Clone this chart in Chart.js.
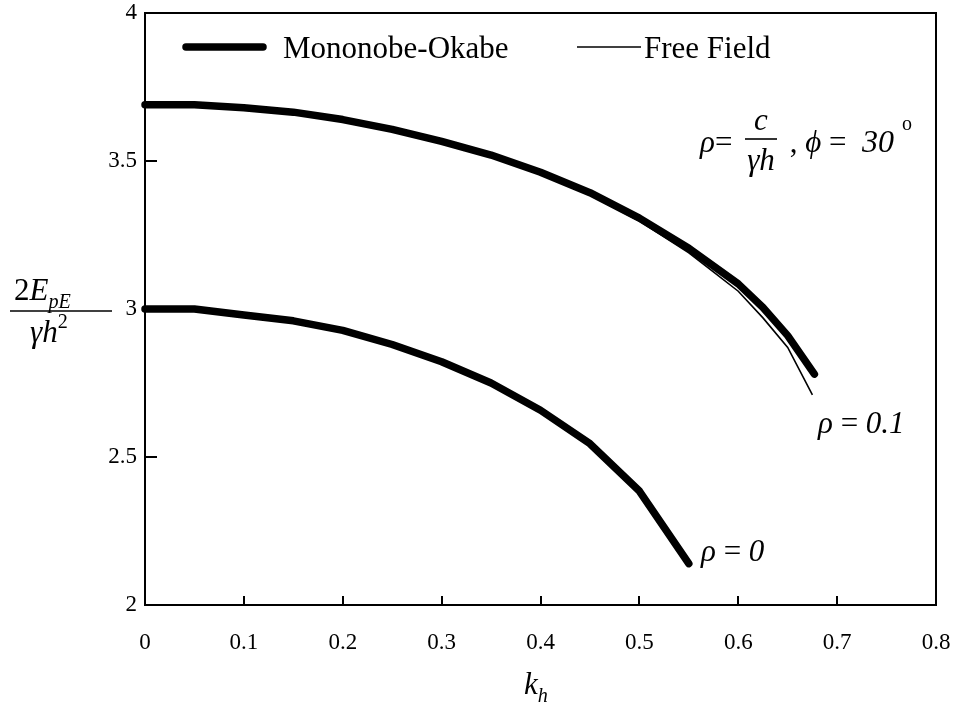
<html><head><meta charset="UTF-8">
<title>Mononobe-Okabe vs Free Field</title>
<script src="https://cdn.jsdelivr.net/npm/chart.js"></script>
<style>
body { margin: 0; background: #fff; }
#wrap { width: 956px; height: 710px; }
</style>
</head>
<body>
<div id="wrap"><canvas id="kpChart" width="956" height="710"></canvas></div>
<script>
// k_h values and 2E_pE / (gamma h^2)
const khRho0 = [0, 0.05, 0.1, 0.15, 0.2, 0.25, 0.3, 0.35, 0.4, 0.45, 0.5, 0.55];
const moRho0 = [3.0, 3.0, 2.98, 2.96, 2.928, 2.88, 2.822, 2.75, 2.658, 2.545, 2.385, 2.14];

const khMoRho01 = [0, 0.05, 0.1, 0.15, 0.2, 0.25, 0.3, 0.35, 0.4, 0.45, 0.5, 0.55, 0.6, 0.625, 0.65, 0.677];
const moRho01 = [3.69, 3.69, 3.68, 3.665, 3.64, 3.607, 3.566, 3.52, 3.462, 3.393, 3.307, 3.205, 3.085, 3.005, 2.91, 2.78];

const khFfRho01 = [0, 0.05, 0.1, 0.15, 0.2, 0.25, 0.3, 0.35, 0.4, 0.45, 0.5, 0.55, 0.6, 0.625, 0.65, 0.675];
const ffRho01 = [3.69, 3.69, 3.68, 3.665, 3.638, 3.605, 3.563, 3.517, 3.455, 3.385, 3.297, 3.19, 3.06, 2.97, 2.87, 2.71];

const xTicks = [0, 0.1, 0.2, 0.3, 0.4, 0.5, 0.6, 0.7, 0.8];
const yTicks = [2, 2.5, 3, 3.5, 4];

const SERIF = "'Liberation Serif', 'Times New Roman', serif";

function pts(xs, ys) {
  return xs.map((x, i) => ({ x: x, y: ys[i] }));
}

// draws italic text with optional sub/superscript pieces, returns end x
function richText(ctx, parts, x, y, size) {
  parts.forEach(p => {
    const s = p.small ? size * 0.65 : size;
    ctx.font = (p.upright ? '' : 'italic ') + s + 'px ' + SERIF;
    const dy = p.sub ? size * 0.25 : (p.sup ? -size * 0.45 : 0);
    ctx.fillText(p.t, x, y + dy);
    x += ctx.measureText(p.t).width;
  });
  return x;
}

const decorations = {
  id: 'decorations',
  afterDraw(chart) {
    const ctx = chart.ctx;
    const a = chart.chartArea;
    const xs = chart.scales.x, ys = chart.scales.y;
    ctx.save();
    ctx.strokeStyle = '#000';
    ctx.fillStyle = '#000';

    // plot box
    ctx.lineWidth = 2;
    ctx.strokeRect(a.left, a.top, a.right - a.left, a.bottom - a.top);

    // inward ticks
    ctx.beginPath();
    xTicks.forEach(v => {
      const px = Math.round(xs.getPixelForValue(v));
      ctx.moveTo(px, a.bottom);
      ctx.lineTo(px, a.bottom - 9);
    });
    yTicks.forEach(v => {
      const py = Math.round(ys.getPixelForValue(v));
      ctx.moveTo(a.left, py);
      ctx.lineTo(a.left + 12, py);
    });
    ctx.stroke();

    // legend
    ctx.lineCap = 'round';
    ctx.lineWidth = 7.5;
    ctx.beginPath(); ctx.moveTo(186, 47); ctx.lineTo(263, 47); ctx.stroke();
    ctx.lineCap = 'butt';
    ctx.lineWidth = 1.6;
    ctx.beginPath(); ctx.moveTo(577, 47); ctx.lineTo(641, 47); ctx.stroke();
    ctx.textBaseline = 'alphabetic';
    ctx.textAlign = 'left';
    ctx.font = '31px ' + SERIF;
    ctx.fillText('Mononobe-Okabe', 283, 58);
    ctx.fillText('Free Field', 644, 58);

    // parameter note
    const sz = 31;
    richText(ctx, [{ t: 'ρ' }, { t: '=', upright: true }], 700, 152, sz);
    ctx.font = 'italic ' + sz + 'px ' + SERIF;
    ctx.textAlign = 'center';
    ctx.fillText('c', 761, 130);
    ctx.fillText('γh', 761, 170);
    ctx.lineWidth = 1.6;
    ctx.beginPath(); ctx.moveTo(745, 139); ctx.lineTo(777, 139); ctx.stroke();
    ctx.textAlign = 'left';
    richText(ctx, [{ t: ' , ', upright: true }, { t: 'ϕ' }, { t: ' = ', upright: true }], 782, 152, sz);
    richText(ctx, [{ t: '30' }], 862, 152, 32);
    ctx.font = '20px ' + SERIF;
    ctx.fillText('o', 902, 130);

    // curve labels
    richText(ctx, [{ t: 'ρ' }, { t: ' = ', upright: true }, { t: '0.1' }], 818, 433, sz);
    richText(ctx, [{ t: 'ρ' }, { t: ' = ', upright: true }, { t: '0' }], 701, 561, sz);

    // x title
    richText(ctx, [{ t: 'k' }, { t: 'h', small: true, sub: true }], 524, 694, sz);

    // y title (fraction)
    richText(ctx, [{ t: '2', upright: true }, { t: 'E' }, { t: 'pE', small: true, sub: true }], 14, 300, sz);
    ctx.lineWidth = 1.6;
    ctx.beginPath(); ctx.moveTo(10, 311); ctx.lineTo(112, 311); ctx.stroke();
    richText(ctx, [{ t: 'γh' }, { t: '2', upright: true, small: true, sup: true }], 30, 342, sz);

    ctx.restore();
  }
};

new Chart(document.getElementById('kpChart'), {
  type: 'line',
  data: {
    datasets: [
      {
        label: 'Free Field',
        data: pts(khFfRho01, ffRho01),
        borderColor: '#000',
        borderWidth: 1.6,
        pointRadius: 0,
        fill: false,
        clip: false
      },
      {
        label: 'Mononobe-Okabe ρ=0.1',
        data: pts(khMoRho01, moRho01),
        borderColor: '#000',
        borderWidth: 7.5,
        borderCapStyle: 'round',
        borderJoinStyle: 'round',
        pointRadius: 0,
        fill: false,
        clip: false
      },
      {
        label: 'Mononobe-Okabe ρ=0',
        data: pts(khRho0, moRho0),
        borderColor: '#000',
        borderWidth: 7.5,
        borderCapStyle: 'round',
        borderJoinStyle: 'round',
        pointRadius: 0,
        fill: false,
        clip: false
      }
    ]
  },
  options: {
    responsive: false,
    animation: false,
    devicePixelRatio: 1,
    layout: { padding: { top: 13, right: 20, left: 0, bottom: 0 } },
    plugins: {
      legend: { display: false },
      tooltip: { enabled: false }
    },
    scales: {
      x: {
        type: 'linear',
        min: 0,
        max: 0.8,
        afterBuildTicks: s => { s.ticks = xTicks.map(v => ({ value: v })); },
        afterFit: s => { s.height = 105; s.paddingLeft = 0; s.paddingRight = 0; },
        grid: { display: false },
        border: { display: false },
        ticks: {
          color: '#000',
          padding: 16,
          maxRotation: 0,
          font: { family: SERIF, size: 23 },
          callback: v => String(+v.toFixed(2))
        }
      },
      y: {
        type: 'linear',
        min: 2,
        max: 4,
        afterBuildTicks: s => { s.ticks = yTicks.map(v => ({ value: v })); },
        afterFit: s => { s.width = 145; s.paddingTop = 0; s.paddingBottom = 0; },
        grid: { display: false },
        border: { display: false },
        ticks: {
          color: '#000',
          padding: 0,
          font: { family: SERIF, size: 23 },
          callback: v => String(+v.toFixed(2))
        }
      }
    }
  },
  plugins: [decorations]
});
</script>
</body></html>
